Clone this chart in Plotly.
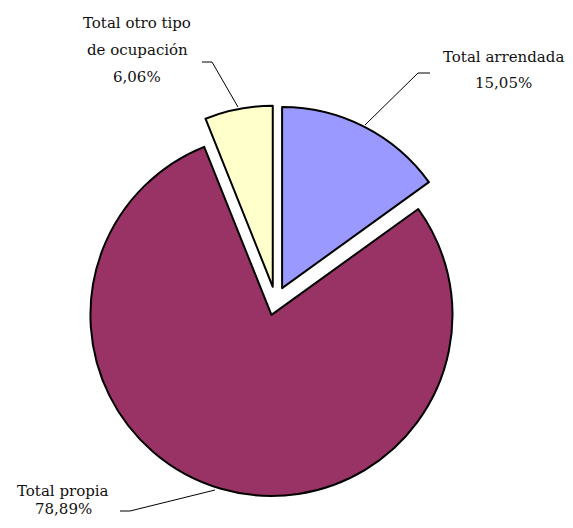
import plotly.graph_objects as go

# page body has an 8px margin, so the figure is sized to fill the 573x528 window exactly
W, H = 565, 512

categories = ["Total arrendada", "Total propia", "Total otro tipo de ocupación"]
label_lines = [["Total arrendada"], ["Total propia"], ["Total otro tipo", "de ocupación"]]
values = [15.05, 78.89, 6.06]
colors = ["#9999FF", "#993366", "#FFFFCC"]

fig = go.Figure(go.Pie(
    labels=categories,
    values=values,
    sort=False,
    direction="clockwise",
    rotation=0,
    pull=[0.08, 0.08, 0.08],
    textinfo="none",
    hoverinfo="label+percent",
    marker=dict(colors=colors, line=dict(color="black", width=2)),
    domain=dict(x=[72 / W, 463 / W], y=[1 - 488.5 / H, 1 - 97.5 / H]),
))

def px(x):
    return x / W

def py(y):
    return 1 - y / H

font = dict(family="DejaVu Serif", size=15, color="#111111")

# label blocks: (center x, first line y, line spacing)
label_pos = [(495, 49, 26), (55, 483, 18), (129, 15, 27)]
for lines, v, (cx, y0, dy) in zip(label_lines, values, label_pos):
    all_lines = lines + [f"{v:.2f}".replace(".", ",") + "%"]
    for i, t in enumerate(all_lines):
        fig.add_annotation(x=px(cx), y=py(y0 + i * dy), xref="paper", yref="paper",
                           text=t, showarrow=False, font=font,
                           xanchor="center", yanchor="middle")

leaders = [
    [(422, 65), (410, 65), (357, 117)],
    [(112, 503), (122, 503), (207, 482)],
    [(194, 54), (204, 54), (230, 99)],
]
for pts in leaders:
    path = "M " + " L ".join(f"{px(x)},{py(y)}" for x, y in pts)
    fig.add_shape(type="path", path=path, xref="paper", yref="paper",
                  line=dict(color="black", width=1))

fig.update_layout(width=W, height=H, margin=dict(l=0, r=0, t=0, b=0),
                  showlegend=False, paper_bgcolor="white", plot_bgcolor="white")

fig.write_html("out.html")
